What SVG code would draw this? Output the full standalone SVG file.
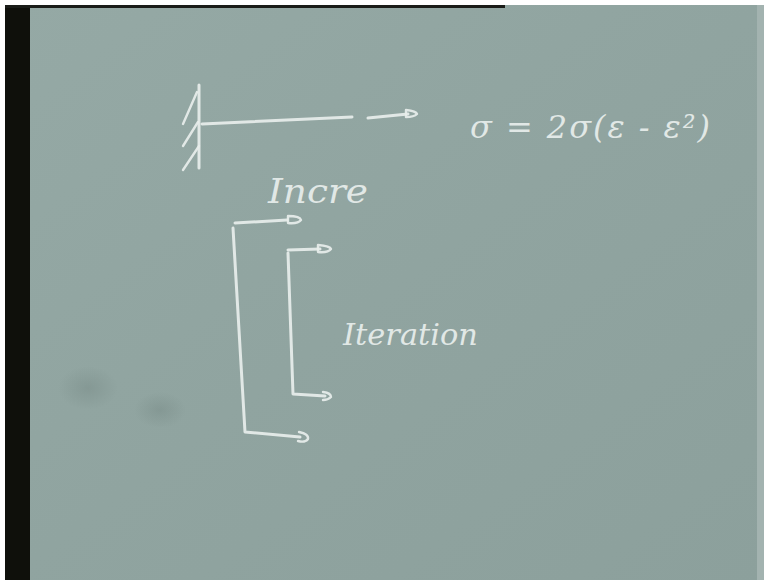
<svg xmlns="http://www.w3.org/2000/svg" width="764" height="580" viewBox="0 0 764 580">
<defs>
<style>
.chalk{fill:none;stroke:#e8eeec;stroke-width:3;stroke-linecap:round;stroke-linejoin:round;opacity:0.92}
.thin{stroke-width:2.4}
.txt{fill:#e8eeec;font-family:"DejaVu Serif",serif;font-style:italic;opacity:0.92}
</style>
<radialGradient id="smudge" cx="0.5" cy="0.5" r="0.5">
<stop offset="0" stop-color="#768985" stop-opacity="0.45"/>
<stop offset="1" stop-color="#768985" stop-opacity="0"/>
</radialGradient>
<linearGradient id="board" x1="0" y1="0" x2="1" y2="1">
<stop offset="0" stop-color="#95a9a5"/>
<stop offset="0.5" stop-color="#90a4a0"/>
<stop offset="1" stop-color="#8ca09c"/>
</linearGradient>
</defs>
<rect x="0" y="0" width="764" height="580" fill="#ffffff"/>
<rect x="5" y="5" width="759" height="575" fill="url(#board)"/>
<rect x="5" y="5" width="25" height="575" fill="#0f100b"/>
<rect x="5" y="5" width="500" height="3" fill="#1a1c18"/>
<rect x="757" y="5" width="7" height="575" fill="#a3b3b0"/>
<ellipse cx="88" cy="388" rx="30" ry="22" fill="url(#smudge)"/>
<ellipse cx="160" cy="410" rx="26" ry="18" fill="url(#smudge)"/>

<g id="wall">
<path class="chalk" d="M199 85 L199 168"/>
<path class="chalk thin" d="M197 92 L183 124"/>
<path class="chalk thin" d="M198 122 L183 146"/>
<path class="chalk thin" d="M199 146 L183 170"/>
</g>
<g id="bar">
<path class="chalk" d="M202 124 L352 117"/>
</g>
<g id="connectors">
<path class="chalk" d="M368 118 L408 114"/>
<path class="chalk thin" d="M406 110 Q416 111 417 114 Q414 117 406 117 Z"/>
<path class="chalk" d="M235 223 L287 220"/>
<path class="chalk thin" d="M288 216 Q300 216 301 220 Q298 224 288 223 Z"/>
<path class="chalk" d="M233 228 L245 432 L300 437"/>
<path class="chalk thin" d="M299 432 Q309 434 308 439 Q305 443 298 441"/>
<path class="chalk" d="M288 250 L320 249"/>
<path class="chalk thin" d="M318 245 Q330 246 331 249 Q328 253 318 252 Z"/>
<path class="chalk" d="M288 253 L293 394 L325 396"/>
<path class="chalk thin" d="M323 392 Q331 393 331 397 Q328 400 323 400"/>
</g>
<g id="equation">
<text class="txt" x="470" y="138" font-size="32" textLength="240" lengthAdjust="spacing">σ = 2σ(ε - ε²)</text>
</g>
<g id="label-incre">
<text class="txt" x="268" y="203" font-size="34" textLength="100" lengthAdjust="spacingAndGlyphs">Incre</text>
</g>
<g id="label-iteration">
<text class="txt" x="343" y="345" font-size="30" textLength="135" lengthAdjust="spacingAndGlyphs">Iteration</text>
</g>
</svg>
